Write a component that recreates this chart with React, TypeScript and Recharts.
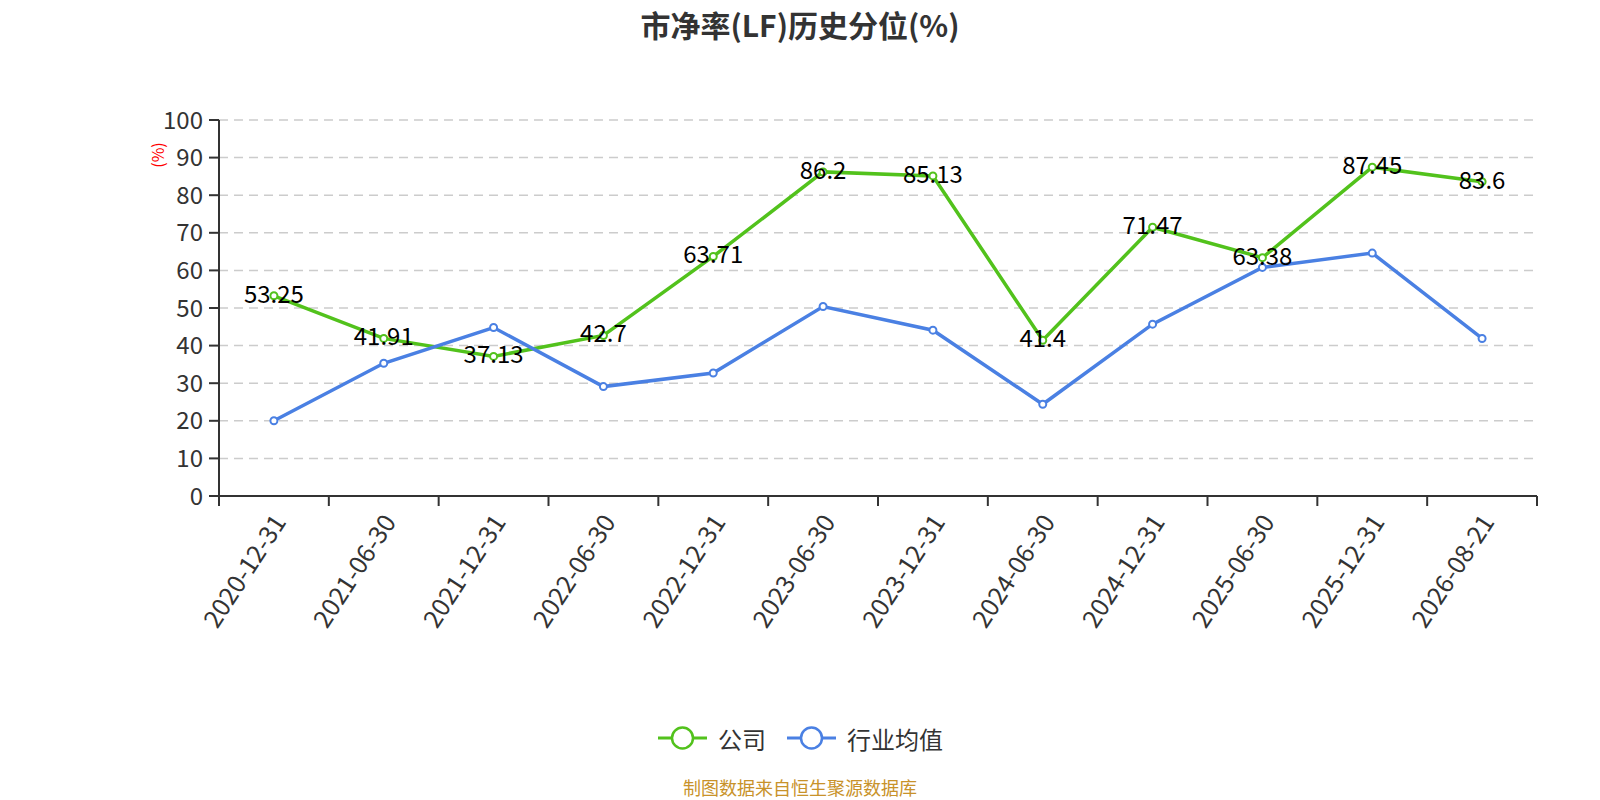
import React from 'react';
import { LineChart, Line, XAxis, YAxis, CartesianGrid, LabelList } from 'recharts';

const categories = ['2020-12-31', '2021-06-30', '2021-12-31', '2022-06-30', '2022-12-31', '2023-06-30', '2023-12-31', '2024-06-30', '2024-12-31', '2025-06-30', '2025-12-31', '2026-08-21'];
const companyValues = [53.25, 41.91, 37.13, 42.7, 63.71, 86.2, 85.13, 41.4, 71.47, 63.38, 87.45, 83.6];
const industryValues = [20.0, 35.3, 44.8, 29.1, 32.7, 50.4, 44.1, 24.4, 45.7, 60.8, 64.6, 41.9];
const yTicks = [0, 10, 20, 30, 40, 50, 60, 70, 80, 90, 100];
const seriesNames = ['公司', '行业均值'];
const titleText = '市净率(LF)历史分位(%)';
const sourceText = '制图数据来自恒生聚源数据库';

const GREEN = '#52c21c';
const BLUE = '#4a80e3';
const FONT = '"Noto Sans CJK SC", "Noto Sans", sans-serif';

const W = 1600;
const H = 800;
const M_LEFT = 0;
const Y_AXIS_W = 219;
const M_RIGHT = 63;
const M_TOP = 120;
const X_AXIS_H = 100;
const M_BOTTOM = 800 - 496 - X_AXIS_H;
const PLOT_W = W - M_LEFT - Y_AXIS_W - M_RIGHT;
const BAND = PLOT_W / categories.length;

const data = categories.map((c, i) => ({ date: c, company: companyValues[i], industry: industryValues[i] }));

const XTick = (props: any) => {
  const { x, y, payload, index } = props;
  const axisY = y - 10;
  const lx = x + 4;
  const ly = axisY + 20;
  return (
    <g>
      <line x1={x - BAND / 2} x2={x - BAND / 2} y1={axisY} y2={axisY + 10} stroke="#333" strokeWidth={2} />
      {index === categories.length - 1 && (
        <line x1={x + BAND / 2} x2={x + BAND / 2} y1={axisY} y2={axisY + 10} stroke="#333" strokeWidth={2} />
      )}
      <text
        x={lx}
        y={ly}
        textAnchor="end"
        dominantBaseline="central"
        transform={`rotate(-57, ${lx}, ${ly})`}
        fontSize={25}
        fill="#333"
        fontFamily={FONT}
      >
        {payload.value}
      </text>
    </g>
  );
};

const ValueLabel = (props: any) => {
  const { x, y, value } = props;
  return (
    <text x={x} y={y + 7} textAnchor="middle" fontSize={24} fill="#000" fontFamily={FONT}>
      {value}
    </text>
  );
};

const YLabel = (props: any) => {
  const vb = props.viewBox || { x: 0, y: M_TOP, width: Y_AXIS_W, height: 376 };
  const cx = vb.x + vb.width - 62.5;
  const cy = vb.y + 35;
  return (
    <text
      x={cx}
      y={cy}
      textAnchor="middle"
      dominantBaseline="central"
      transform={`rotate(-90, ${cx}, ${cy})`}
      fontSize={16}
      fill="#ff0000"
      fontFamily={FONT}
    >
      (%)
    </text>
  );
};

const LegendItem = ({ color, label, x }: { color: string; label: string; x: number }) => (
  <g>
    <line x1={x} x2={x + 49} y1={738} y2={738} stroke={color} strokeWidth={3} />
    <circle cx={x + 24.5} cy={738} r={10.5} fill="#fff" stroke={color} strokeWidth={2.5} />
    <text x={x + 60} y={738} dominantBaseline="central" fontSize={24} fill="#333" fontFamily={FONT}>
      {label}
    </text>
  </g>
);

export default function App() {
  return (
    <div style={{ position: 'absolute', left: 0, top: 0, width: W, height: H, background: '#fff', fontFamily: FONT }}>
      <LineChart
        width={W}
        height={H}
        data={data}
        margin={{ top: M_TOP, right: M_RIGHT, bottom: M_BOTTOM, left: M_LEFT }}
      >
        <CartesianGrid vertical={false} stroke="#cccccc" strokeDasharray="9 6" strokeWidth={1.5} />
        <XAxis
          dataKey="date"
          scale="band"
          interval={0}
          height={X_AXIS_H}
          axisLine={{ stroke: '#333', strokeWidth: 2 }}
          tickLine={false}
          tickSize={10}
          tickMargin={0}
          tick={<XTick />}
        />
        <YAxis
          width={Y_AXIS_W}
          domain={[0, 100]}
          ticks={yTicks}
          interval={0}
          axisLine={{ stroke: '#333', strokeWidth: 2 }}
          tickLine={{ stroke: '#333', strokeWidth: 2 }}
          tickSize={10}
          tickMargin={6}
          tick={{ fontSize: 24, fill: '#333', fontFamily: FONT }}
          label={{ content: <YLabel /> }}
        />
        <Line
          type="linear"
          dataKey="company"
          name={seriesNames[0]}
          stroke={GREEN}
          strokeWidth={3.5}
          dot={{ r: 3.5, fill: '#fff', stroke: GREEN, strokeWidth: 2 }}
          activeDot={false}
          isAnimationActive={false}
        />
        <Line
          type="linear"
          dataKey="industry"
          name={seriesNames[1]}
          stroke={BLUE}
          strokeWidth={3.5}
          dot={{ r: 3.5, fill: '#fff', stroke: BLUE, strokeWidth: 2 }}
          activeDot={false}
          isAnimationActive={false}
        />
        <Line
          type="linear"
          dataKey="company"
          stroke="none"
          dot={false}
          activeDot={false}
          legendType="none"
          isAnimationActive={false}
        >
          <LabelList dataKey="company" content={<ValueLabel />} />
        </Line>
      </LineChart>
      <div
        style={{
          position: 'absolute',
          left: 0,
          top: 6,
          width: W,
          textAlign: 'center',
          fontSize: 30,
          fontWeight: 'bold',
          color: '#333',
          lineHeight: '36px',
        }}
      >
        {titleText}
      </div>
      <svg style={{ position: 'absolute', left: 0, top: 0 }} width={W} height={H} pointerEvents="none">
        <LegendItem color={GREEN} label={seriesNames[0]} x={658} />
        <LegendItem color={BLUE} label={seriesNames[1]} x={787} />
        <text x={800} y={787} textAnchor="middle" dominantBaseline="central" fontSize={18} fill="#c8922a" fontFamily={FONT}>
          {sourceText}
        </text>
      </svg>
    </div>
  );
}
